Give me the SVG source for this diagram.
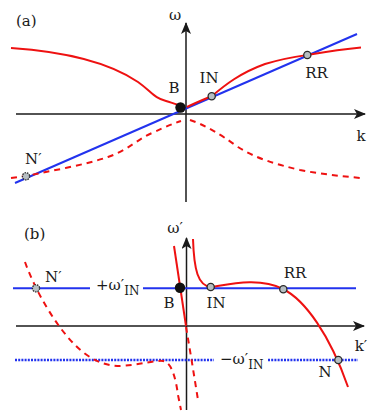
<svg xmlns="http://www.w3.org/2000/svg" width="381" height="419" viewBox="0 0 381 419">
<defs>
<marker id="arr" viewBox="0 0 12 10" refX="11" refY="5" markerWidth="12" markerHeight="10" markerUnits="userSpaceOnUse" orient="auto">
<path d="M0,0 L12,5 L0,10 L3,5 Z" fill="#1a1a1a"/>
</marker>
<style>
.ax{stroke:#1a1a1a;stroke-width:1.5;fill:none}
.red{stroke:#ee1111;stroke-width:2;fill:none}
.redd{stroke:#ee1111;stroke-width:2;fill:none;stroke-dasharray:6 5}
.blue{stroke:#2233ee;stroke-width:2;fill:none}
.blued{stroke:#2233ee;stroke-width:2.5;fill:none;stroke-dasharray:2 1.2}
.pt{fill:#b6bec2;stroke:#2a2a2a;stroke-width:1.3}
.ptd{fill:#b6bec2;stroke:#2a2a2a;stroke-width:1.3;stroke-dasharray:1.5 1}
.bk{fill:#111}
text{font-family:'DejaVu Serif','Liberation Serif',serif;font-size:15px;fill:#1a1a1a}
.sub{font-size:12px}
</style>
</defs>

<g id="panel-a-axes">
<line class="ax" x1="186" y1="202" x2="186" y2="23" marker-end="url(#arr)"/>
<line class="ax" x1="16" y1="114" x2="365" y2="114" marker-end="url(#arr)"/>
<text x="16" y="26">(a)</text>
<text x="175" y="20" text-anchor="middle">ω</text>
<text x="361" y="141" text-anchor="middle">k</text>
</g>

<g id="connectors-a">
<line class="blue" x1="15" y1="183" x2="357" y2="34"/>
<path class="red" d="M11,48 C70,52 110,63 138,82 C152,92 154,98 166,101 C172,103 177,104 181,106"/>
<path class="red" d="M187,107 C195,103 200,101 212,96 C225,85 240,73 265,64 C285,58 300,56 307,55 C325,52 345,49 361,47.5"/>
<path class="redd" d="M11,178 L26,176 C50,171 85,165 108,157 C128,150 138,139 152,133 C165,127 172,124 181,121"/>
<path class="redd" d="M190,120 C205,125 220,134 238,147 C255,158 275,164 300,170 C320,174 340,176 361,178"/>
</g>

<g id="node-a-B"><circle class="bk" cx="180.5" cy="107.5" r="5.2"/><text x="174" y="93" text-anchor="middle">B</text></g>
<g id="node-a-IN"><circle class="pt" cx="211.7" cy="96.3" r="3.6"/><text x="209" y="83" text-anchor="middle">IN</text></g>
<g id="node-a-RR"><circle class="pt" cx="307.3" cy="55" r="3.6"/><text x="316.5" y="77.5" text-anchor="middle">RR</text></g>
<g id="node-a-Np"><circle class="ptd" cx="26" cy="176.3" r="3.6"/><text x="25" y="164">N′</text></g>

<g id="panel-b-axes">
<line class="ax" x1="186.5" y1="410" x2="186.5" y2="238" marker-end="url(#arr)"/>
<line class="ax" x1="16" y1="326" x2="364" y2="326" marker-end="url(#arr)"/>
<text x="24" y="239">(b)</text>
<text x="175" y="233" text-anchor="middle">ω′</text>
<text x="361" y="351" text-anchor="middle">k′</text>
</g>

<g id="connectors-b">
<line class="blue" x1="13" y1="288.3" x2="90" y2="288.3"/>
<line class="blue" x1="143" y1="288.3" x2="356" y2="288.3"/>
<line class="blued" x1="15" y1="360" x2="214" y2="360"/>
<line class="blued" x1="268" y1="360" x2="358" y2="360"/>
<path class="red" d="M174,246 L186,326"/>
<path class="redd" d="M186,327 C190,350 194,375 198,400"/>
<path class="red" d="M193,239 C194,270 198,286 211,287 C230,284 260,277 283,289 C305,300 330,335 348,387"/>
<path class="redd" d="M25,262 C35,290 55,325 75,345 C90,360 105,366 120,366 C140,365 155,360 163,361 C172,362 176,380 178,395 L181,410"/>
<text x="96" y="290">+ω′<tspan class="sub" dy="4.5">IN</tspan></text>
<text x="220" y="363.5">−ω′<tspan class="sub" dy="5.5">IN</tspan></text>
</g>

<g id="node-b-B"><circle class="bk" cx="180" cy="287.8" r="5.2"/><text x="169" y="308" text-anchor="middle">B</text></g>
<g id="node-b-IN"><circle class="pt" cx="210.7" cy="287" r="3.6"/><text x="216" y="308" text-anchor="middle">IN</text></g>
<g id="node-b-RR"><circle class="pt" cx="283.3" cy="289.3" r="3.6"/><text x="295" y="278" text-anchor="middle">RR</text></g>
<g id="node-b-N"><circle class="pt" cx="338.3" cy="360" r="3.6"/><text x="325" y="377" text-anchor="middle">N</text></g>
<g id="node-b-Np"><circle class="ptd" cx="36" cy="288.3" r="3.6"/><text x="45" y="282">N′</text></g>
</svg>
